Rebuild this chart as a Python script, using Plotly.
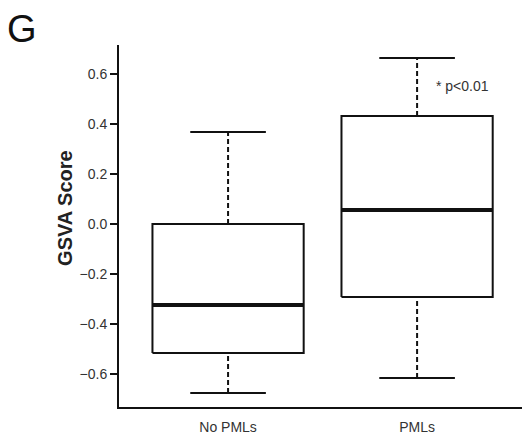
import plotly.graph_objects as go

categories = ["No PMLs", "PMLs"]
lower_whisker = [-0.676, -0.616]
q1 = [-0.516, -0.292]
median = [-0.324, 0.056]
q3 = [0.0, 0.432]
upper_whisker = [0.368, 0.664]
y_ticks = [-0.6, -0.4, -0.2, 0.0, 0.2, 0.4, 0.6]
annotation_text = "* p<0.01"

box_half = 0.4
cap_half = 0.2
line_col = "#111111"

fig = go.Figure()
for i, cat in enumerate(categories):
    c = i
    # whiskers (dashed)
    fig.add_trace(go.Scatter(x=[c, c], y=[q3[i], upper_whisker[i]], mode="lines",
                             line=dict(color=line_col, width=2, dash="5px,3px"), hoverinfo="skip"))
    fig.add_trace(go.Scatter(x=[c, c], y=[lower_whisker[i], q1[i]], mode="lines",
                             line=dict(color=line_col, width=2, dash="5px,3px"), hoverinfo="skip"))
    # caps
    fig.add_trace(go.Scatter(x=[c - cap_half, c + cap_half], y=[upper_whisker[i]] * 2, mode="lines",
                             line=dict(color=line_col, width=2), hoverinfo="skip"))
    fig.add_trace(go.Scatter(x=[c - cap_half, c + cap_half], y=[lower_whisker[i]] * 2, mode="lines",
                             line=dict(color=line_col, width=2), hoverinfo="skip"))
    # box
    fig.add_trace(go.Scatter(x=[c - box_half, c + box_half, c + box_half, c - box_half, c - box_half],
                             y=[q1[i], q1[i], q3[i], q3[i], q1[i]], mode="lines",
                             fill="toself", fillcolor="white",
                             line=dict(color=line_col, width=2), hoverinfo="skip"))
    # median
    fig.add_trace(go.Scatter(x=[c - box_half, c + box_half], y=[median[i]] * 2, mode="lines",
                             line=dict(color=line_col, width=4), hoverinfo="skip"))

fig.add_annotation(x=1.238, y=0.552, xref="x", yref="y", text=annotation_text, showarrow=False,
                   font=dict(size=14, color="#333333", family="Liberation Sans, Arial"))
fig.add_annotation(x=-0.134, y=0.55, xref="paper", yref="paper", text="<b>GSVA Score</b>",
                   textangle=-90, showarrow=False, xanchor="center", yanchor="middle",
                   font=dict(size=20, color="#222222", family="Liberation Sans, Arial"))
fig.add_annotation(x=-0.2407, y=1.044, xref="paper", yref="paper", text="G", showarrow=False,
                   xanchor="center", yanchor="middle",
                   font=dict(size=38, color="#111111", family="Liberation Sans, Arial"))

fig.update_layout(
    width=522, height=434,
    margin=dict(l=119, r=0, t=45, b=27),
    plot_bgcolor="white", paper_bgcolor="white",
    showlegend=False,
    font=dict(family="Liberation Sans, Arial", size=14, color="#333333"),
    xaxis=dict(range=[-0.577, 1.555], tickvals=[0, 1], ticktext=categories,
               showline=True, linecolor=line_col, linewidth=2, ticks="",
               ticklabelstandoff=6,
               showgrid=False, zeroline=False, tickfont=dict(size=14, color="#333333")),
    yaxis=dict(range=[-0.732, 0.716], tickvals=y_ticks, tickformat=".1f",
               showline=True, linecolor=line_col, linewidth=2, ticks="outside",
               ticklen=7, tickwidth=2, tickcolor=line_col,
               showgrid=False, zeroline=False, tickfont=dict(size=14, color="#333333")),
)

fig.write_html("out.html")
